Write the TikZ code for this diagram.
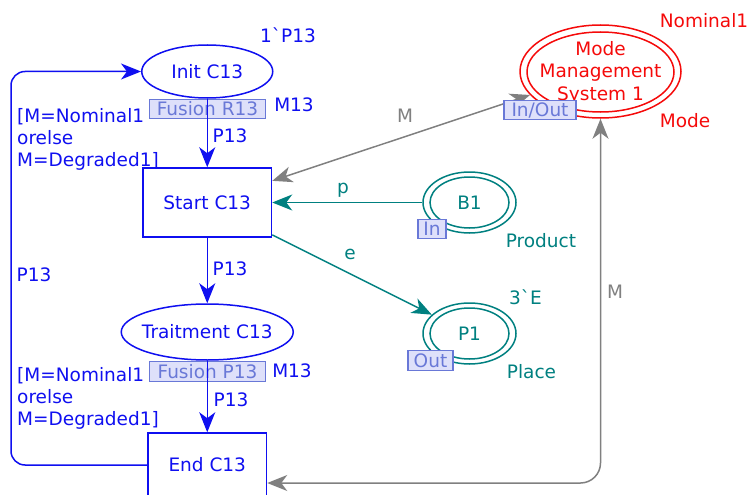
\documentclass[tikz,border=0pt]{standalone}
\usepackage{fontspec}
\setmainfont{DejaVu Sans}
\usetikzlibrary{arrows.meta,shapes.geometric}
\definecolor{cpnblue}{RGB}{15,15,240}
\definecolor{cpnteal}{RGB}{0,128,128}
\definecolor{cpnred}{RGB}{245,10,10}
\definecolor{cpngray}{RGB}{128,128,128}
\definecolor{fusfill}{RGB}{222,224,250}
\definecolor{fusdraw}{RGB}{105,120,215}
\begin{document}
\begin{tikzpicture}[x=1pt,y=-1pt, font=\fontsize{18.5}{22.3}\selectfont,
  tip/.style={-{Stealth[length=20pt,width=16pt,inset=6pt]}},
  both/.style={{Stealth[length=20pt,width=16pt,inset=6pt]}-{Stealth[length=20pt,width=16pt,inset=6pt]}},
  lw/.style={line width=1.5pt},
  ell/.style={ellipse, draw, line width=1.5pt, inner sep=0pt},
  trans/.style={rectangle, draw, line width=1.5pt, inner sep=0pt},
  fus/.style={rectangle, draw=fusdraw, fill=fusfill, text=fusdraw, line width=1.2pt, inner sep=0pt, minimum height=19.5pt, text height=13pt, text depth=0pt},
  lab/.style={inner sep=0pt, anchor=base},
  txt/.style={inner sep=0pt},
]
\useasboundingbox (0,0) rectangle (750,495);
\clip (0,0) rectangle (750,495);

% fusion boxes (under arcs)
\node[fus, minimum width=116pt] (fusR) at (207.5,109) {Fusion R13};
\node[fus, minimum width=116pt] (fusP) at (207.5,371.5) {Fusion P13};

% places and transitions
\node[ell, cpnblue, minimum width=131pt, minimum height=53pt] (init) at (207.25,71.5) {};
\node[txt, cpnblue] (initT) at (init) {Init C13};
\node[trans, cpnblue, minimum width=128.5pt, minimum height=69pt] (start) at (207.25,202.5) {Start C13};
\node[ell, cpnblue, minimum width=172pt, minimum height=56pt] (trait) at (207.25,332) {};
\node[txt, cpnblue] (traitT) at (trait) {Traitment C13};
\node[trans, cpnblue, minimum width=118.5pt, minimum height=64pt] (end) at (207.25,465) {End C13};

\node[ell, cpnred, minimum width=161pt, minimum height=93pt] (mode) at (600.5,71.5) {};
\node[ell, cpnred, minimum width=147pt, minimum height=80pt] (modeIn) at (600.5,72) {};
\node[txt, cpnred, align=center] (modeT) at (600.5,72.7) {Mode\\Management\\System 1};

\node[ell, cpnteal, minimum width=93pt, minimum height=61pt] (b1) at (469.5,202.5) {};
\node[ell, cpnteal, minimum width=79pt, minimum height=51pt] (b1In) at (469.5,202.5) {};
\node[txt, cpnteal] (b1T) at (b1) {B1};
\node[ell, cpnteal, minimum width=93pt, minimum height=61pt] (p1) at (469.5,333.5) {};
\node[ell, cpnteal, minimum width=79pt, minimum height=51pt] (p1In) at (469.5,333.5) {};
\node[txt, cpnteal] (p1T) at (p1) {P1};

% arcs
\draw[lw, cpnblue, tip] (init) -- (start);
\draw[lw, cpnblue, tip] (start) -- (trait);
\draw[lw, cpnblue, tip] (trait) -- (end);
\coordinate (lc) at (11,300);
\draw[lw, cpnblue, tip, rounded corners=14pt] (end.west) -| (lc) |- (init.west);
\draw[lw, cpngray, both] (start) -- (mode);
\draw[lw, cpngray, both, rounded corners=20pt] ([yshift=-18pt]end.east) -| (mode.south);
\draw[lw, cpnteal, tip] (b1) -- (start);
\draw[lw, cpnteal, tip] (start) -- (p1);

% port boxes
\node[fus, minimum width=72pt] (inout) at (540,110) {In/Out};
\node[fus, minimum width=28pt] (inB) at (432,229) {In};
\node[fus, minimum width=45pt] (outB) at (430.5,360.5) {Out};

% labels
\node[lab, cpnblue] (mk1) at (288,43) {1ˋP13};
\node[lab, cpnblue] (ty1) at (294,111) {M13};
\node[lab, cpnblue] (a1) at (230,142) {P13};
\node[lab, cpnblue] (a2) at (230,275.7) {P13};
\node[lab, cpnblue] (a3) at (34,281.7) {P13};
\node[lab, cpnblue] (ty2) at (292,377) {M13};
\node[lab, cpnblue] (a4) at (231,406) {P13};
\node[txt, cpnblue, align=left, anchor=north west] (g1) at (17,108) {[M=Nominal1\\orelse\\M=Degraded1]};
\node[txt, cpnblue, align=left, anchor=north west] (g2) at (17,367) {[M=Nominal1\\orelse\\M=Degraded1]};
\node[lab, cpnred] (mk2) at (704,28) {Nominal1};
\node[lab, cpnred] (ty3) at (685,128) {Mode};
\node[lab, cpngray] (m1) at (405,122.5) {M};
\node[lab, cpngray] (m2) at (615,298) {M};
\node[lab, cpnteal] (pl) at (343,193) {p};
\node[lab, cpnteal] (el) at (350,259) {e};
\node[lab, cpnteal] (ty4) at (541,247) {Product};
\node[lab, cpnteal] (mk3) at (525.5,304) {3ˋE};
\node[lab, cpnteal] (ty5) at (531.5,378) {Place};
\end{tikzpicture}
\end{document}
